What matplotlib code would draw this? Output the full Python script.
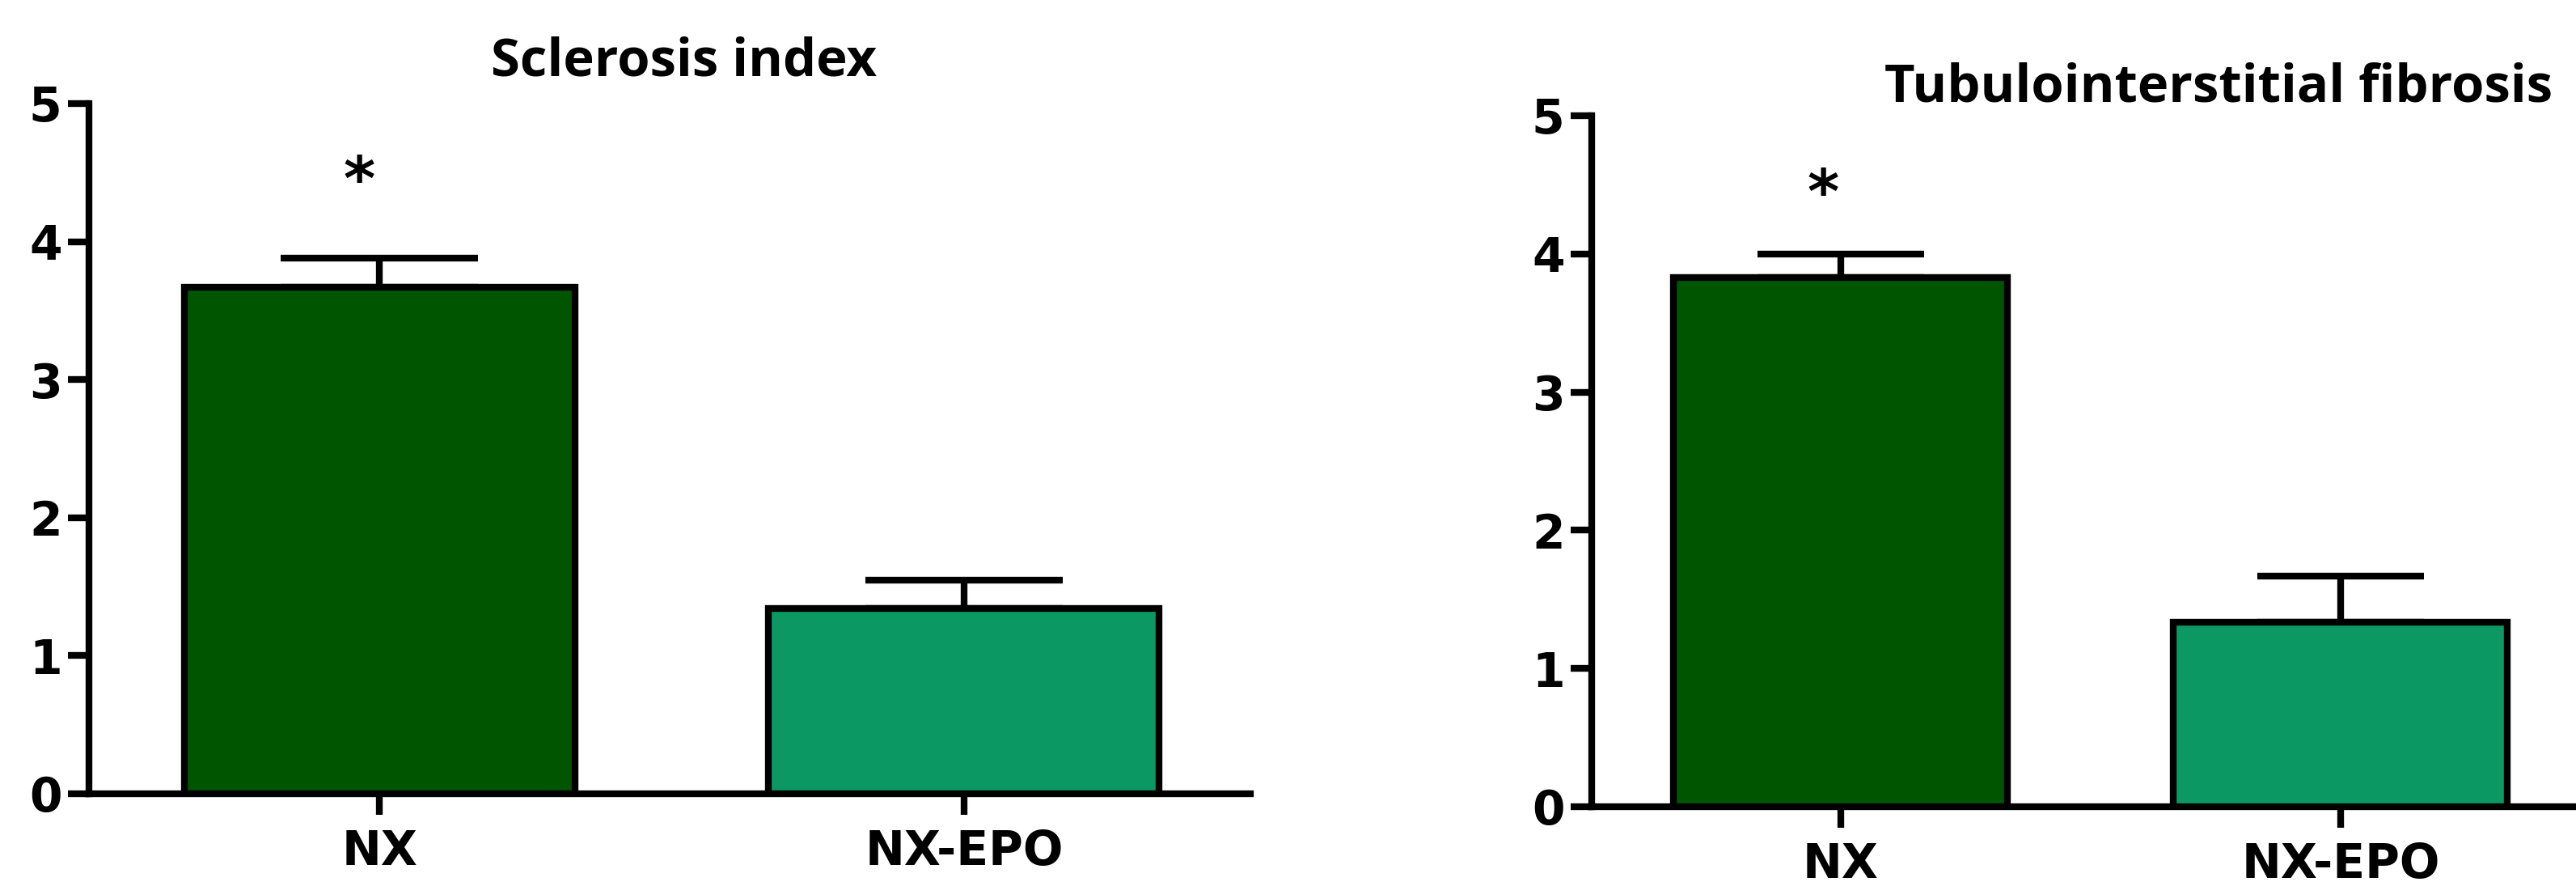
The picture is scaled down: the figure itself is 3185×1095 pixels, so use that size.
import numpy as np
import matplotlib
matplotlib.use("Agg")
import matplotlib.pyplot as plt

# data
groups = ["NX", "NX-EPO"]
scl_mean = [3.67, 1.34]
scl_sem = [0.21, 0.21]
fib_mean = [3.83, 1.335]
fib_sem = [0.17, 0.335]
yticks = [0, 1, 2, 3, 4, 5]
titles = ["Sclerosis index", "Tubulointerstitial fibrosis"]

bar_colors = ["#005500", "#0c9863"]

W, H = 3185, 1095
fig = plt.figure(figsize=(W / 100, H / 100), dpi=100)

# axes boxes in pixels: left, right, y of 0, y of 5
ax1 = fig.add_axes([110 / W, 1 - 981 / H, (1546 - 110) / W, (981 - 128) / H])
ax2 = fig.add_axes([1968 / W, 1 - 997 / H, (3185 - 1968) / W, (997 - 143) / H])

lw = 6
tick_font = dict(family="DejaVu Sans", weight="bold", size=42)


def draw_panel(ax, means, sems, title, xlim, capsize, title_x, title_pad):
    x = np.arange(len(groups))
    ax.errorbar(x, means, yerr=[np.zeros(len(sems)), sems], fmt="none",
                ecolor="black", elinewidth=lw, capsize=capsize, capthick=lw,
                zorder=2)
    ax.bar(x, means, width=0.668, color=bar_colors, edgecolor="black",
           linewidth=lw, zorder=3)
    ax.set_xlim(*xlim)
    ax.set_ylim(0, 5)
    ax.set_yticks(yticks)
    ax.set_xticks(x)
    ax.set_xticklabels(groups, fontdict=tick_font)
    ax.set_yticklabels([str(t) for t in yticks], fontdict=tick_font)
    for s in ["top", "right"]:
        ax.spines[s].set_visible(False)
    for s in ["left", "bottom"]:
        ax.spines[s].set_linewidth(lw)
    ax.tick_params(axis="both", direction="out", length=19, width=lw)
    ax.tick_params(axis="y", pad=5)
    ax.tick_params(axis="x", pad=12)
    ax.text(title_x, 1 + title_pad, title, transform=ax.transAxes,
            ha="center", va="baseline", family="Open Sans", weight="bold",
            size=47)
    # significance mark over NX
    ax.text(x[0] - 0.035, 4.42, "*", ha="center", va="center",
            family="DejaVu Sans", weight="bold", size=54)


draw_panel(ax1, scl_mean, scl_sem, titles[0], (-0.497, 1.49), 88, 0.512, 0.041)
draw_panel(ax2, fib_mean, fib_sem, titles[1], (-0.498, 1.471), 74.5, 0.637, 0.021)

fig.savefig("out.png", dpi=100)
